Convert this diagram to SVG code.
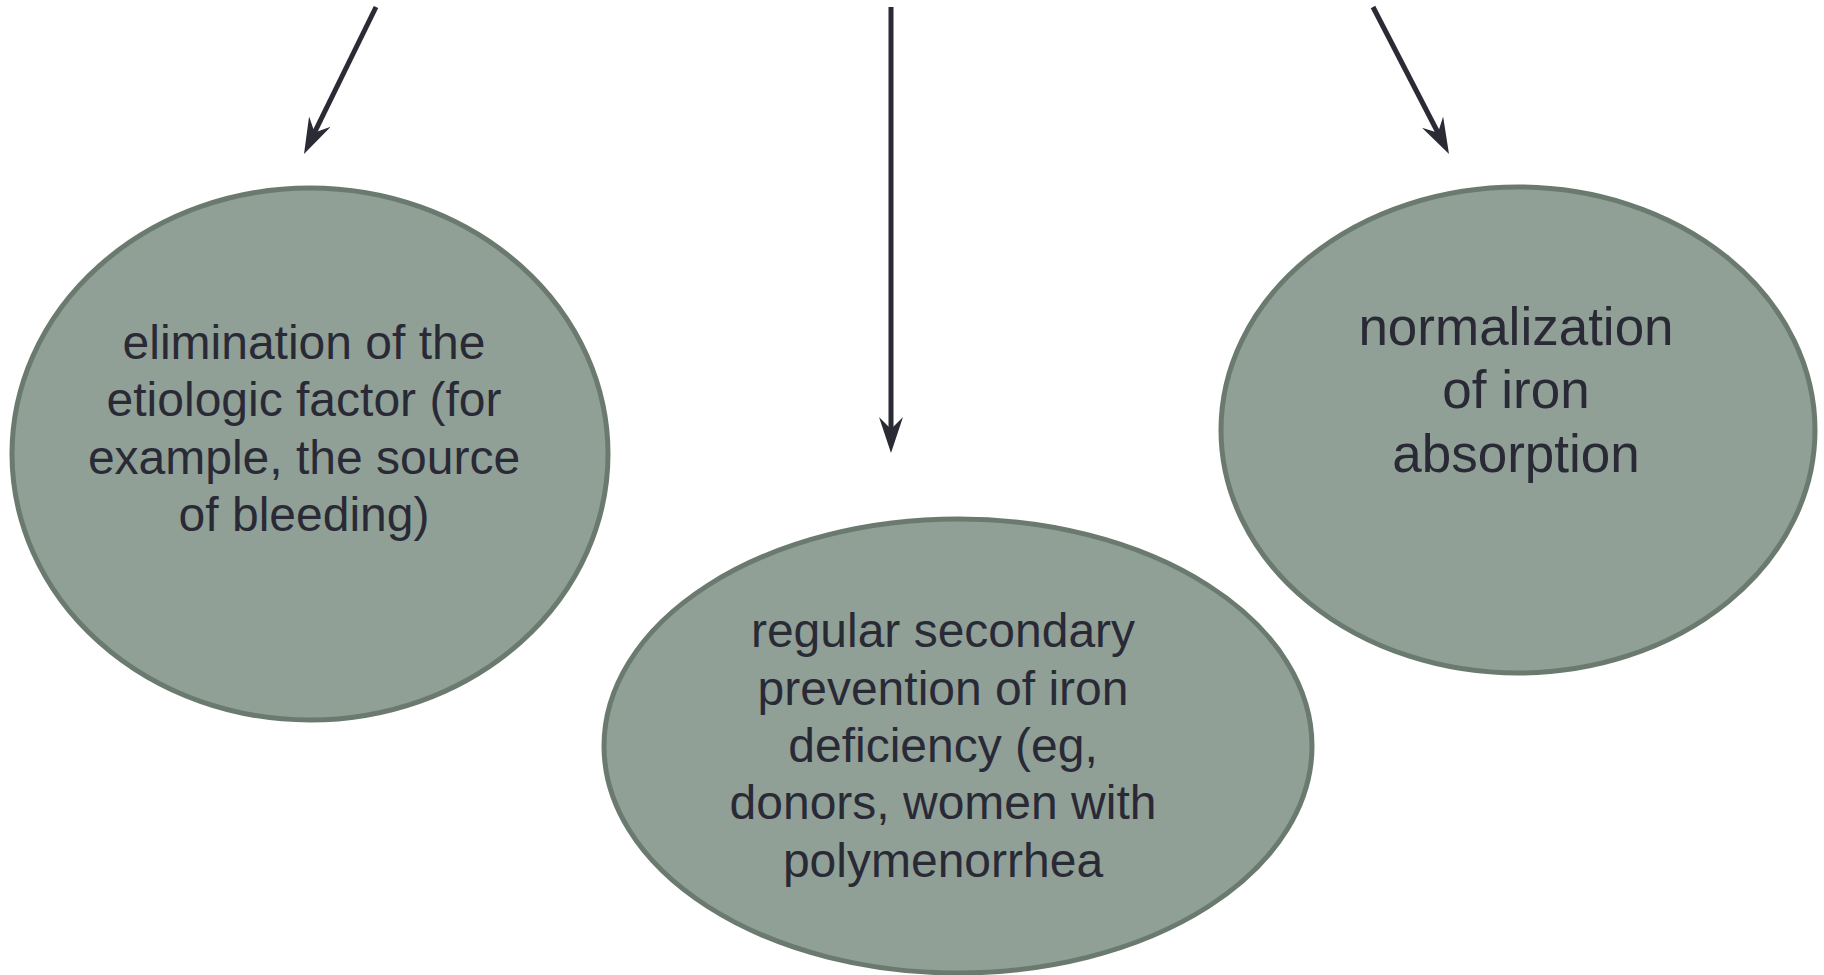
<svg xmlns="http://www.w3.org/2000/svg" width="1824" height="975" viewBox="0 0 1824 975">
<style>
.node ellipse{fill:#90a096;stroke:#6b7a6f;stroke-width:5}
.node text{font-family:"Liberation Sans",Arial,sans-serif;fill:#2a2a36;text-anchor:middle}
.conn line{stroke:#2b2b36;stroke-width:5;fill:none}
</style>
<defs>
<marker id="ah" markerUnits="userSpaceOnUse" viewBox="0 0 36 24" markerWidth="36" markerHeight="24" refX="14" refY="12" orient="auto">
<path d="M0,0 L36,12 L0,24 L12,12 Z" fill="#2b2b36"/>
</marker>
</defs>
<rect width="1824" height="975" fill="#ffffff"/>
<g id="connectors" class="conn">
<line x1="376" y1="7" x2="313.7" y2="134.2" marker-end="url(#ah)"/>
<line x1="891" y1="7" x2="891" y2="431" marker-end="url(#ah)"/>
<line x1="1373" y1="7" x2="1438.9" y2="134.5" marker-end="url(#ah)"/>
</g>
<g id="node-elimination" class="node">
<ellipse cx="310" cy="454" rx="298" ry="266"/>
<text font-size="48"><tspan x="304" y="359">elimination of the</tspan><tspan x="304" y="416">etiologic factor (for</tspan><tspan x="304" y="474">example, the source</tspan><tspan x="304" y="531">of bleeding)</tspan></text>
</g>
<g id="node-prevention" class="node">
<ellipse cx="958" cy="746" rx="354" ry="227"/>
<text font-size="48"><tspan x="943" y="647">regular secondary</tspan><tspan x="943" y="705">prevention of iron</tspan><tspan x="943" y="762">deficiency (eg,</tspan><tspan x="943" y="819">donors, women with</tspan><tspan x="943" y="877">polymenorrhea</tspan></text>
</g>
<g id="node-absorption" class="node">
<ellipse cx="1518" cy="430" rx="297" ry="243"/>
<text font-size="53"><tspan x="1516" y="345">normalization</tspan><tspan x="1516" y="408">of iron</tspan><tspan x="1516" y="472">absorption</tspan></text>
</g>
</svg>
